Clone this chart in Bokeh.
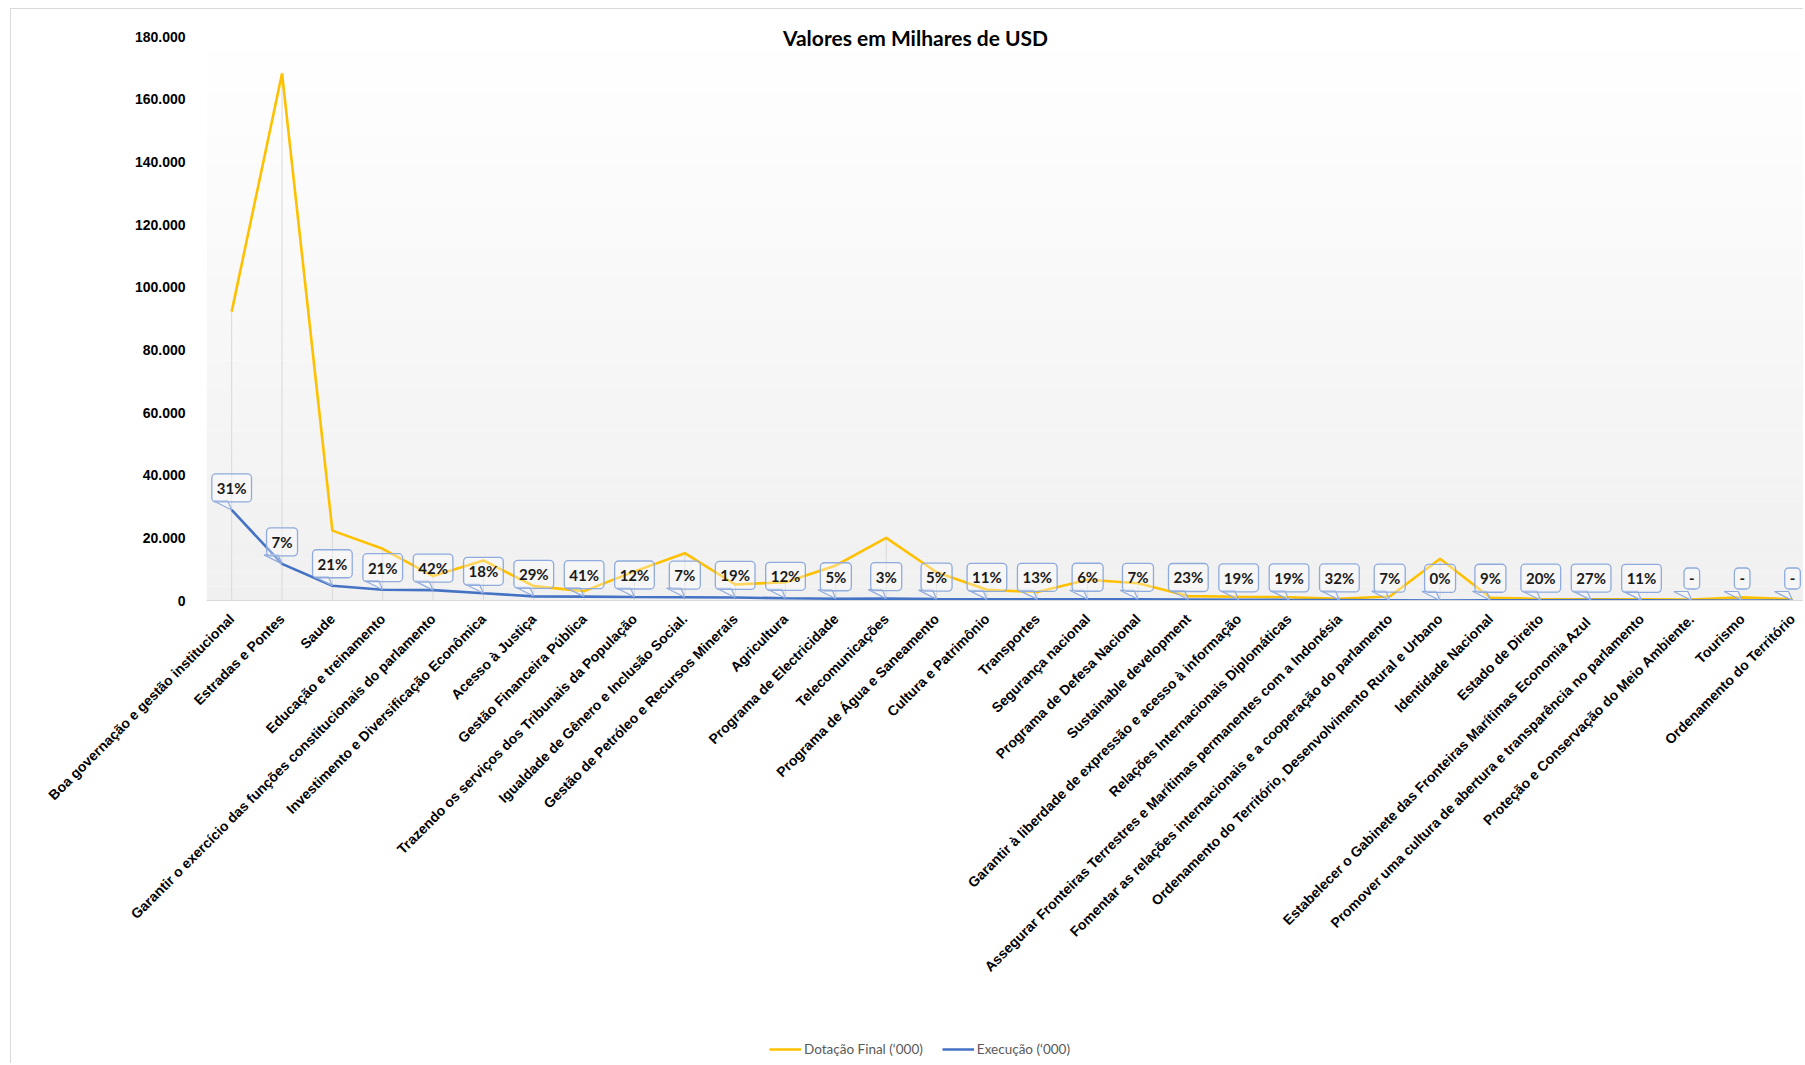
import math
from bokeh.plotting import figure
from bokeh.layouts import column
from bokeh.models import Range1d, FixedTicker, BoxAnnotation, Label, Legend, LegendItem, ColumnDataSource
from bokeh.core.properties import value
from bokeh.embed import file_html
from bokeh.resources import INLINE

# ---------------- data ----------------
categories = [
    "Boa governação e gestão institucional",
    "Estradas e Pontes",
    "Saude",
    "Educação e treinamento",
    "Garantir o exercício das funções constitucionais do parlamento",
    "Investimento e Diversificação Econômica",
    "Acesso à Justiça",
    "Gestão Financeira Pública",
    "Trazendo os serviços dos Tribunais da População",
    "Igualdade de Gênero e Inclusão Social.",
    "Gestão de Petróleo e Recursos Minerais",
    "Agricultura",
    "Programa de Electricidade",
    "Telecomunicações",
    "Programa de Água e Saneamento",
    "Cultura e Patrimônio",
    "Transportes",
    "Segurança nacional",
    "Programa de Defesa Nacional",
    "Sustainable development",
    "Garantir à liberdade de expressão e acesso à informação",
    "Relações Internacionais Diplomáticas",
    "Assegurar Fronteiras Terrestres e Marítimas permanentes com a Indonésia",
    "Fomentar as relações internacionais e a cooperação do parlamento",
    "Ordenamento do Território, Desenvolvimento Rural e Urbano",
    "Identidade Nacional",
    "Estado de Direito",
    "Estabelecer o Gabinete das Fronteiras Marítimas  Economia Azul",
    "Promover uma cultura de abertura e transparência no parlamento",
    "Proteção e Conservação do Meio Ambiente.",
    "Tourismo",
    "Ordenamento do Território",
]
dotacao = [92200, 168200, 22300, 16500, 7800, 12800, 4600, 3000, 9300, 15100,
           5100, 5850, 11200, 20000, 9000, 3400, 2700, 6600, 5500, 1400,
           1200, 1050, 550, 1300, 13300, 850, 500, 400, 400, 300, 1000, 400]
execucao = [28900, 11700, 4700, 3450, 3300, 2300, 1330, 1230, 1120, 1060,
            970, 700, 560, 600, 450, 370, 350, 400, 390, 320,
            230, 200, 175, 90, 20, 75, 100, 110, 45, 0, 0, 0]
pct_labels = ["31%", "7%", "21%", "21%", "42%", "18%", "29%", "41%", "12%", "7%",
              "19%", "12%", "5%", "3%", "5%", "11%", "13%", "6%", "7%", "23%",
              "19%", "19%", "32%", "7%", "0%", "9%", "20%", "27%", "11%", "-", "-", "-"]
y_ticks = [0, 20000, 40000, 60000, 80000, 100000, 120000, 140000, 160000, 180000]
title_text = "Valores em Milhares de USD"
legend_names = ["Dotação Final (‘000)", "Execução (‘000)"]
colors = ["#ffc000", "#4472c4"]

# ---------------- layout ----------------
W = 1792
H_LEG = 36
H = 1054 - H_LEG
PX_PER_UNIT_Y = 564 / 180000          # 180.000 spans 564 px
TOP_EXTRA_PX = 16
FRAME_H = 564 + TOP_EXTRA_PX
FRAME_W = 1597
Y_TOP_TICK = 180000
Y_MAX = Y_TOP_TICK + TOP_EXTRA_PX / PX_PER_UNIT_Y
X_LO = -0.5
X_HI = X_LO + FRAME_W / 50.35

p = figure(width=W, height=H, output_backend="svg", toolbar_location=None,
           x_range=Range1d(X_LO, X_HI), y_range=Range1d(0, Y_MAX),
           min_border_left=W - FRAME_W, min_border_right=0, min_border_top=11,
           min_border_bottom=H - 11 - FRAME_H)
p.outline_line_color = None
p.background_fill_color = "#ffffff"
p.border_fill_color = "#ffffff"
p.xgrid.visible = False
p.ygrid.visible = False

# gradient plot area (white at top -> light grey at bottom)
n_bands = 40
for k in range(n_bands):
    b = Y_TOP_TICK * k / n_bands
    t = Y_TOP_TICK * (k + 1) / n_bands
    frac = (k + 0.5) / n_bands
    g = int(round(240 + (255 - 240) * frac))
    p.add_layout(BoxAnnotation(bottom=b, top=t, fill_color=f"#{g:02x}{g:02x}{g:02x}",
                               fill_alpha=1.0, line_color=None, level="underlay"))

xs = list(range(len(categories)))
src = ColumnDataSource(dict(x=xs, dot=dotacao, exe=execucao, lab=pct_labels,
                            top=[max(a, b) for a, b in zip(dotacao, execucao)],
                            zero=[0] * len(xs)))

# drop lines
p.segment(x0="x", y0="zero", x1="x", y1="top", source=src, line_color="#d9d9d9", line_width=1)

r_dot = p.line("x", "dot", source=src, line_color=colors[0], line_width=2.6)
r_exe = p.line("x", "exe", source=src, line_color=colors[1], line_width=2.6)

# callout tails
kx = 1 / 50.35
ky = 1 / PX_PER_UNIT_Y
tail_xs = [[x - 18 * kx, x - 4 * kx, x] for x in xs]
tail_ys = [[y + 9 * ky, y + 9 * ky, y] for y in execucao]
p.patches(tail_xs, tail_ys, fill_color="white", fill_alpha=0.35,
          line_color="#8faadc", line_width=1.2)

# callout boxes with percentages
p.text(x="x", y="exe", text="lab", source=src, y_offset=-22,
       text_align="center", text_baseline="middle",
       text_font=value("Lato"), text_font_style="bold", text_font_size="15px",
       text_color="#1a1a1a",
       background_fill_color="white", background_fill_alpha=0.35,
       border_line_color="#8faadc", border_line_width=1.3,
       padding=5, border_radius=4)

# title
p.add_layout(Label(x=915 - 206, y=FRAME_H - 17, x_units="screen", y_units="screen",
                   text=title_text, text_align="center", text_baseline="middle",
                   text_font="Lato", text_font_style="bold", text_font_size="21px",
                   text_color="#000000"))

# axes
xa = p.xaxis[0]
xa.ticker = FixedTicker(ticks=xs)
xa.major_label_overrides = {i: c for i, c in enumerate(categories)}
xa.major_label_orientation = math.pi / 4
xa.major_label_text_font = "Liberation Sans"
xa.major_label_text_font_style = "bold"
xa.major_label_text_font_size = "14px"
xa.major_label_text_color = "#000000"
xa.axis_line_color = "#d9d9d9"
xa.major_tick_line_color = None
xa.minor_tick_line_color = None
xa.major_label_standoff = 10

ya = p.yaxis[0]
ya.ticker = FixedTicker(ticks=y_ticks)
ya.major_label_overrides = {t: f"{t:,}".replace(",", ".") for t in y_ticks}
ya.major_label_text_font = "Liberation Sans"
ya.major_label_text_font_style = "bold"
ya.major_label_text_font_size = "14px"
ya.major_label_text_color = "#000000"
ya.axis_line_color = None
ya.major_tick_line_color = None
ya.minor_tick_line_color = None
ya.major_label_standoff = 15

# ---------------- legend strip (same series styles, legend only) ----------------
p2 = figure(width=W, height=H_LEG, output_backend="svg", toolbar_location=None,
            x_range=Range1d(0, 1), y_range=Range1d(0, 1),
            min_border_left=0, min_border_right=0, min_border_top=0, min_border_bottom=0)
p2.axis.visible = False
p2.xgrid.visible = False
p2.ygrid.visible = False
p2.outline_line_color = None
p2.background_fill_color = "#ffffff"
p2.border_fill_color = "#ffffff"
leg_src = ColumnDataSource(dict(x=[0], y=[0]))
l1 = p2.line("x", "y", source=leg_src, line_color=colors[0], line_width=2.6)
l2 = p2.line("x", "y", source=leg_src, line_color=colors[1], line_width=2.6)
legend = Legend(items=[LegendItem(label=legend_names[0], renderers=[l1]),
                       LegendItem(label=legend_names[1], renderers=[l2])],
                orientation="horizontal", location=(563, 6),
                padding=0, margin=0, spacing=19, glyph_width=32, glyph_height=14,
                label_height=14, label_standoff=3,
                label_text_font="Lato", label_text_font_size="13.5px",
                label_text_color="#595959",
                border_line_color=None, background_fill_alpha=0)
p2.add_layout(legend)

layout = column(p, p2, spacing=0)
layout.styles = {"border-top": "1px solid #d9d9d9", "border-left": "1px solid #d9d9d9",
                 "margin-left": "10px", "margin-top": "8px"}

open("out.html", "w").write(file_html(layout, INLINE))
